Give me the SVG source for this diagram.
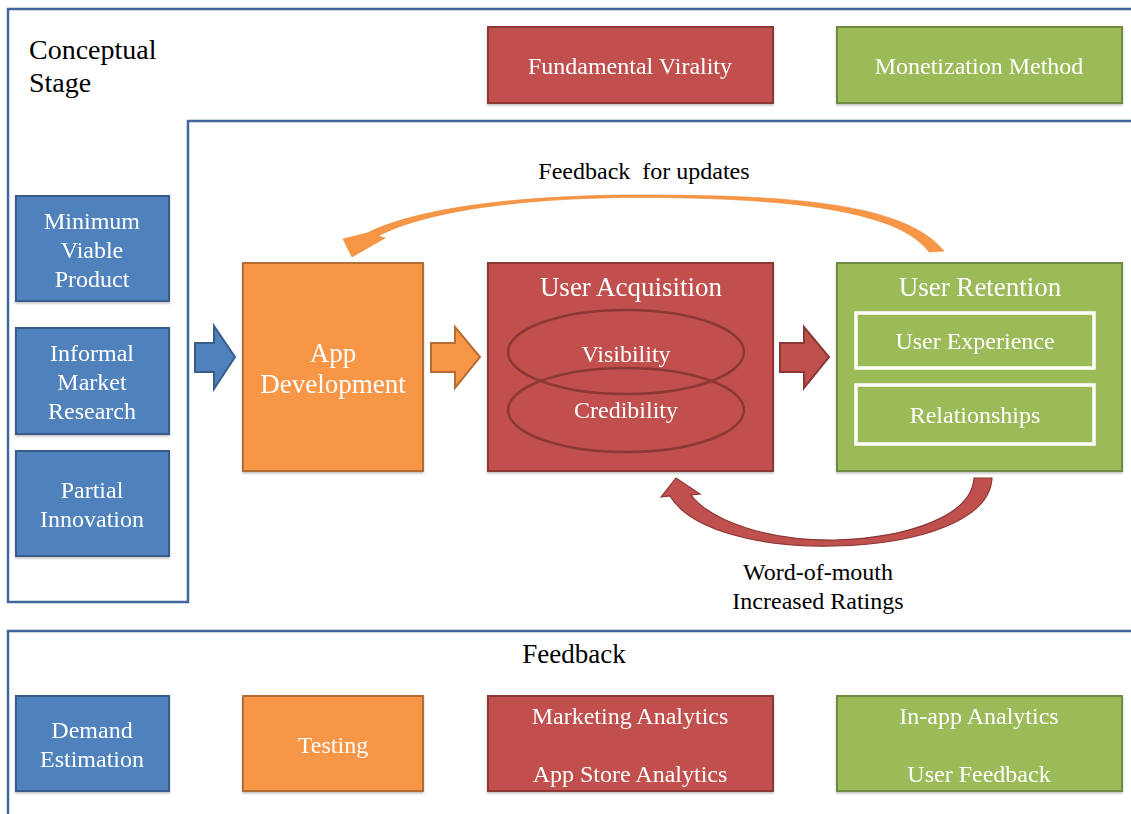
<svg xmlns="http://www.w3.org/2000/svg" width="1131" height="814" viewBox="0 0 1131 814">
<defs>
<style>
.frame{fill:none;stroke:#41669A;stroke-width:2.5}
.blue{fill:#4F81BD;stroke:#385D8A;stroke-width:2}
.orange{fill:#F79646;stroke:#B66D31;stroke-width:2}
.red{fill:#C0504D;stroke:#8C3836;stroke-width:2}
.green{fill:#9BBB59;stroke:#71893F;stroke-width:2}
.inner{fill:#9BBB59;stroke:#FFFFFF;stroke-width:3.5}
.ell{fill:none;stroke:#8C3836;stroke-width:2.5}
.wt{font-family:"Liberation Serif","Times New Roman",serif;font-size:24px;fill:#FFFFFF;text-anchor:middle}
.big{font-size:27px}
.bt{font-family:"Liberation Serif","Times New Roman",serif;font-size:24px;fill:#000000;text-anchor:middle}
</style>
<filter id="sh" x="-5%" y="-5%" width="110%" height="115%">
<feDropShadow dx="0" dy="1.5" stdDeviation="1.2" flood-color="#000" flood-opacity="0.25"/>
</filter>
</defs>
<rect width="1131" height="814" fill="#FFFFFF"/>

<g id="frames">
<path class="frame" d="M1131 9 H8 V602 H188 V121 H1131"/>
<path class="frame" d="M1131 631 H8 V814"/>
</g>

<g id="labels">
<text class="bt" style="text-anchor:start;font-size:28px" x="29" y="59">Conceptual</text>
<text class="bt" style="text-anchor:start;font-size:28px" x="29" y="92">Stage</text>
<text class="bt" x="644" y="179" xml:space="preserve">Feedback  for updates</text>
<text class="bt" x="818" y="580">Word-of-mouth</text>
<text class="bt" x="818" y="609">Increased Ratings</text>
<text class="bt" style="font-size:27px" x="574" y="663">Feedback</text>
</g>

<g id="fundamental-virality" filter="url(#sh)">
<rect class="red" x="488" y="27" width="285" height="76"/>
<text class="wt" x="630" y="74">Fundamental Virality</text>
</g>
<g id="monetization-method" filter="url(#sh)">
<rect class="green" x="837" y="27" width="285" height="76"/>
<text class="wt" x="979" y="74">Monetization Method</text>
</g>

<g id="mvp" filter="url(#sh)">
<rect class="blue" x="16" y="196" width="153" height="105"/>
<text class="wt" x="92" y="229">Minimum</text>
<text class="wt" x="92" y="258">Viable</text>
<text class="wt" x="92" y="287">Product</text>
</g>
<g id="informal-market-research" filter="url(#sh)">
<rect class="blue" x="16" y="328" width="153" height="106"/>
<text class="wt" x="92" y="361">Informal</text>
<text class="wt" x="92" y="390">Market</text>
<text class="wt" x="92" y="419">Research</text>
</g>
<g id="partial-innovation" filter="url(#sh)">
<rect class="blue" x="16" y="451" width="153" height="105"/>
<text class="wt" x="92" y="498">Partial</text>
<text class="wt" x="92" y="527">Innovation</text>
</g>

<g id="app-development" filter="url(#sh)">
<rect class="orange" x="243" y="263" width="180" height="208"/>
<text class="wt big" x="333" y="362">App</text>
<text class="wt big" x="333" y="393">Development</text>
</g>

<g id="user-acquisition" filter="url(#sh)">
<rect class="red" x="488" y="263" width="285" height="208"/>
<text class="wt big" x="631" y="296">User Acquisition</text>
<ellipse class="ell" cx="626" cy="352" rx="118" ry="42"/>
<ellipse class="ell" cx="626" cy="410" rx="118" ry="42"/>
<text class="wt" x="626" y="362">Visibility</text>
<text class="wt" x="626" y="418">Credibility</text>
</g>

<g id="user-retention" filter="url(#sh)">
<rect class="green" x="837" y="263" width="285" height="208"/>
<text class="wt big" x="980" y="296">User Retention</text>
<rect class="inner" x="856" y="313" width="238" height="55"/>
<text class="wt" x="975" y="349">User Experience</text>
<rect class="inner" x="856" y="385" width="238" height="59"/>
<text class="wt" x="975" y="423">Relationships</text>
</g>

<g id="demand-estimation" filter="url(#sh)">
<rect class="blue" x="16" y="696" width="153" height="95"/>
<text class="wt" x="92" y="738">Demand</text>
<text class="wt" x="92" y="767">Estimation</text>
</g>
<g id="testing" filter="url(#sh)">
<rect class="orange" x="243" y="696" width="180" height="95"/>
<text class="wt" x="333" y="753">Testing</text>
</g>
<g id="marketing-analytics" filter="url(#sh)">
<rect class="red" x="488" y="696" width="285" height="95"/>
<text class="wt" x="630" y="724">Marketing Analytics</text>
<text class="wt" x="630" y="782">App Store Analytics</text>
</g>
<g id="inapp-analytics" filter="url(#sh)">
<rect class="green" x="837" y="696" width="285" height="95"/>
<text class="wt" x="979" y="724">In-app Analytics</text>
<text class="wt" x="979" y="782">User Feedback</text>
</g>

<g id="connectors">
<path fill="#4F81BD" stroke="#385D8A" stroke-width="2" d="M195 343 H214 V326 L235 357 L214 389 V372 H195 Z"/>
<path fill="#F79646" stroke="#B66D31" stroke-width="2" d="M431 343 H455 V327 L480 357 L455 388 V372 H431 Z"/>
<path fill="#C0504D" stroke="#8C3836" stroke-width="2" d="M780 343 H804 V327 L829 357 L804 388 V372 H780 Z"/>
<path fill="#F79646" stroke="#E8842F" stroke-width="0.6" d="M367 233 C422 206 530 195 640 195 C790 195 905 203 944 251 L929 252 C900 211 790 197.5 640 197.5 C532 197.5 430 209 378 236 L385 238 L352 257 L343 239 Z"/>
<path fill="#C0504D" stroke="#8C3836" stroke-width="1.2" d="M670 496 C690 530 760 548 835 546 C920 544 990 520 992 478 L974 478 C972 515 910 538 835 540 C770 541 712 522 691 495 L700 494 L676 478 L661 497 Z"/>
</g>
</svg>
